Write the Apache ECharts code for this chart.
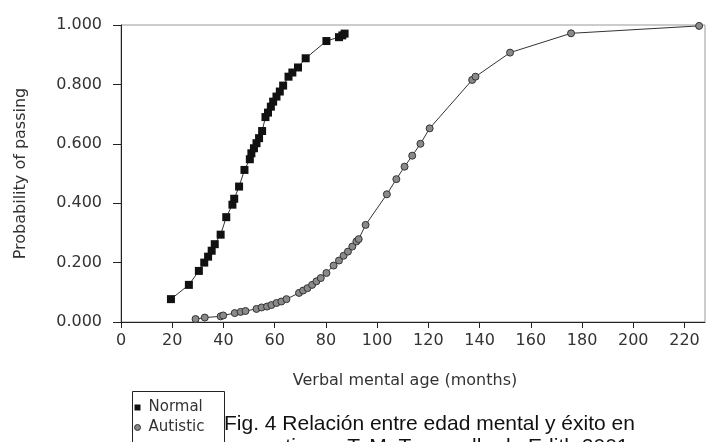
<!DOCTYPE html>
<html>
<head>
<meta charset="utf-8">
<script src="https://cdn.jsdelivr.net/npm/echarts@6/dist/echarts.min.js"></script>
<style>html,body{margin:0;padding:0;background:#fff;}#c{width:709px;height:442px;}</style>
</head>
<body>
<div id="c"></div>
<script>
const seriesNames = ['Normal', 'Autistic'];
const normalX = [19.5, 26.5, 30.4, 32.5, 34.0, 35.4, 36.6, 38.9, 41.1, 43.5, 44.2, 46.1, 48.2, 50.3, 50.9, 51.9, 52.9, 53.9, 55.1, 56.4, 57.4, 58.5, 59.4, 60.7, 62.0, 63.3, 65.4, 66.9, 69.1, 72.1, 80.2, 85.1, 86.4, 87.3];
const normalY = [0.077, 0.125, 0.172, 0.200, 0.220, 0.240, 0.262, 0.294, 0.353, 0.395, 0.415, 0.456, 0.512, 0.548, 0.568, 0.585, 0.602, 0.619, 0.643, 0.690, 0.705, 0.725, 0.742, 0.759, 0.776, 0.796, 0.826, 0.840, 0.857, 0.888, 0.946, 0.959, 0.965, 0.971];
const autisticX = [29.1, 32.7, 38.9, 39.9, 44.4, 46.7, 48.6, 52.9, 54.9, 57.0, 58.7, 60.7, 62.6, 64.6, 69.5, 71.1, 72.8, 74.6, 76.3, 78.0, 80.2, 83.0, 85.1, 86.9, 88.6, 90.3, 91.9, 92.8, 95.5, 103.8, 107.5, 110.7, 113.7, 116.9, 120.5, 137.1, 138.4, 151.9, 175.7, 225.7];
const autisticY = [0.010, 0.015, 0.019, 0.022, 0.030, 0.034, 0.037, 0.044, 0.049, 0.052, 0.057, 0.064, 0.069, 0.077, 0.098, 0.106, 0.114, 0.125, 0.137, 0.148, 0.165, 0.190, 0.207, 0.223, 0.237, 0.254, 0.271, 0.279, 0.327, 0.430, 0.481, 0.523, 0.560, 0.600, 0.652, 0.815, 0.826, 0.907, 0.972, 0.997];
const xTitle = 'Verbal mental age (months)';
const yTitle = 'Probability of passing';
const captionLines = ['Fig. 4 Relación entre edad mental y éxito en', 'autismo. T. M. Tomasello de Edith 2001'];

const zip = (xs, ys) => xs.map((x, i) => [x, ys[i]]);
const font = 'DejaVu Sans';
const chart = echarts.init(document.getElementById('c'), null, {renderer: 'canvas'});
chart.setOption({
  animation: false,
  backgroundColor: '#fff',
  grid: {left: 121, right: 4, top: 25, bottom: 120, show: true, borderColor: '#999', borderWidth: 1},
  xAxis: {
    type: 'value', min: 0, max: 228, interval: 20,
    name: xTitle, nameLocation: 'middle', nameGap: 51,
    nameTextStyle: {fontFamily: font, fontSize: 16, color: '#333', padding: [0, 16, 0, 0]},
    axisLine: {lineStyle: {color: '#222', width: 1}},
    axisTick: {show: true, length: 6, lineStyle: {color: '#222'}},
    axisLabel: {fontFamily: font, fontSize: 16, color: '#333', margin: 11, showMaxLabel: false,
      formatter: v => (v % 20 === 0 ? String(v) : '')},
    splitLine: {show: false}
  },
  yAxis: {
    type: 'value', min: 0, max: 1, interval: 0.2,
    name: yTitle, nameLocation: 'middle', nameGap: 92, nameRotate: 90,
    nameTextStyle: {fontFamily: font, fontSize: 16, color: '#333'},
    axisLine: {show: true, lineStyle: {color: '#222', width: 1}},
    axisTick: {show: true, length: 8, lineStyle: {color: '#222'}},
    axisLabel: {fontFamily: font, fontSize: 16, color: '#333', margin: 19, formatter: v => v.toFixed(3)},
    splitLine: {show: false}
  },
  legend: {
    orient: 'vertical', left: 134, top: 400, height: 42,
    padding: 0,
    itemWidth: 6, itemHeight: 6, itemGap: 5,
    textStyle: {fontFamily: font, fontSize: 15, color: '#333', padding: [0, 0, 0, 3]},
    data: [
      {name: seriesNames[0], icon: 'rect', itemStyle: {color: '#111', borderWidth: 0}},
      {name: seriesNames[1], icon: 'circle', itemStyle: {color: '#888', borderColor: '#333', borderWidth: 1}}
    ]
  },
  graphic: [
    {type: 'rect', left: 130, top: 389, shape: {width: 92, height: 80}, style: {fill: 'none', stroke: '#222', lineWidth: 1}},
    {type: 'text', left: 224, top: 414, style: {text: captionLines[0], font: '21px "Liberation Sans"', fill: '#111'}},
    {type: 'text', left: 262, top: 437, style: {text: captionLines[1], font: '21px "Liberation Sans"', fill: '#111'}}
  ],
  series: [
    {
      name: seriesNames[0], type: 'line', data: zip(normalX, normalY),
      symbol: 'rect', symbolSize: 8, showAllSymbol: true,
      lineStyle: {color: '#333', width: 1},
      itemStyle: {color: '#111', borderWidth: 0}
    },
    {
      name: seriesNames[1], type: 'line', data: zip(autisticX, autisticY),
      symbol: 'circle', symbolSize: 7, showAllSymbol: true,
      lineStyle: {color: '#333', width: 1},
      itemStyle: {color: '#8a8a8a', borderColor: '#333', borderWidth: 1}
    }
  ]
});
</script>
</body>
</html>
